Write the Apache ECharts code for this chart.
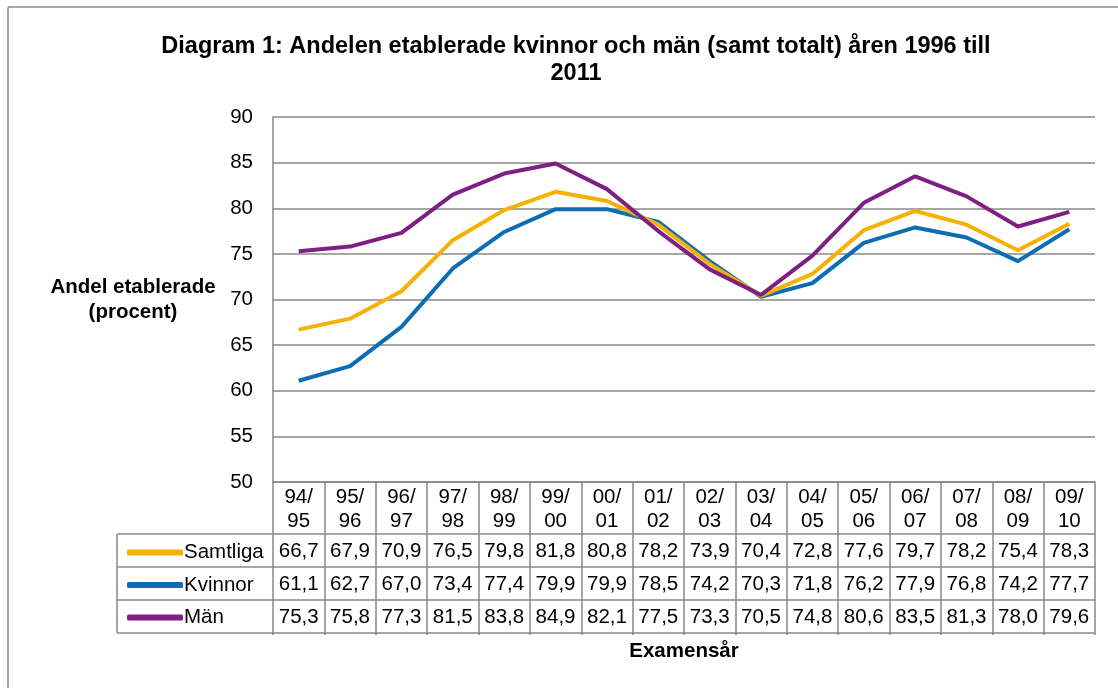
<!DOCTYPE html>
<html>
<head>
  <meta charset="utf-8">
  <script src="https://cdn.jsdelivr.net/npm/echarts@6/dist/echarts.min.js"></script>
  <style>
    html, body { margin: 0; padding: 0; background: #fff; }
  </style>
</head>
<body>
  <div id="id_chart" style="width: 1118px; height: 688px;"></div>

  <script type="text/javascript">
    // data
    var years = ['94/95', '95/96', '96/97', '97/98', '98/99', '99/00', '00/01', '01/02',
                 '02/03', '03/04', '04/05', '05/06', '06/07', '07/08', '08/09', '09/10'];
    var samtliga = [66.7, 67.9, 70.9, 76.5, 79.8, 81.8, 80.8, 78.2, 73.9, 70.4, 72.8, 77.6, 79.7, 78.2, 75.4, 78.3];
    var kvinnor = [61.1, 62.7, 67.0, 73.4, 77.4, 79.9, 79.9, 78.5, 74.2, 70.3, 71.8, 76.2, 77.9, 76.8, 74.2, 77.7];
    var man = [75.3, 75.8, 77.3, 81.5, 83.8, 84.9, 82.1, 77.5, 73.3, 70.5, 74.8, 80.6, 83.5, 81.3, 78.0, 79.6];
    var seriesNames = ['Samtliga', 'Kvinnor', 'Män'];
    var seriesData = [samtliga, kvinnor, man];
    var colors = ['#F8B102', '#0D6DB3', '#7E1F84'];

    var gridColor = '#888888';
    var font = 'Liberation Sans, Arial, sans-serif';
    var fs = 20.5;

    var chart = echarts.init(document.getElementById('id_chart'));

    function fmt(v) {
      return v.toFixed(1).replace('.', ',');
    }

    // the table rows are drawn as extra x axes, one per series
    var xAxes = [{
      type: 'category',
      data: years,
      boundaryGap: true,
      axisLine: { show: true, lineStyle: { color: gridColor, width: 1.5 } },
      axisTick: { show: true, interval: 0, length: 153, lineStyle: { color: gridColor, width: 1.5 } },
      axisLabel: {
        interval: 0, margin: 3, fontSize: fs, lineHeight: 24, color: '#000', fontFamily: font,
        formatter: function (v) { return v.replace('/', '/\n'); }
      }
    }];
    for (var r = 0; r < 3; r++) {
      (function (r) {
        xAxes.push({
          type: 'category',
          data: years,
          position: 'bottom',
          offset: 52 + r * 33,
          axisLine: { show: false },
          axisTick: { show: false },
          axisLabel: {
            interval: 0, margin: 7, fontSize: fs, color: '#000', fontFamily: font,
            formatter: function (v, i) { return fmt(seriesData[r][i]); }
          }
        });
      })(r);
    }

    var series = [];
    for (var i = 0; i < 3; i++) {
      series.push({
        name: seriesNames[i],
        type: 'line',
        data: seriesData[i],
        symbol: 'none',
        lineStyle: { color: colors[i], width: 4 },
        itemStyle: { color: colors[i] },
        z: 3 - i
      });
    }
    // Män drawn on top like the reference
    series[2].z = 5;

    var option = {
      animation: false,
      backgroundColor: '#fff',
      title: {
        text: 'Diagram 1: Andelen etablerade kvinnor och män (samt totalt) åren 1996 till\n2011',
        left: 571,
        textAlign: 'center',
        top: 28,
        textStyle: { fontSize: 23.5, fontWeight: 'bold', color: '#000', fontFamily: font, lineHeight: 27 }
      },
      legend: {
        orient: 'vertical',
        left: 122,
        top: 537,
        itemGap: 11.5,
        itemWidth: 56,
        itemHeight: 6,
        icon: 'roundRect',
        data: seriesNames,
        textStyle: { fontSize: fs, color: '#000', fontFamily: font, padding: [0, 0, 0, -4] },
        selectedMode: false
      },
      grid: { left: 273, right: 23, top: 117, bottom: 206, containLabel: false },
      xAxis: xAxes,
      yAxis: {
        type: 'value',
        min: 50,
        max: 90,
        interval: 5,
        name: 'Andel etablerade\n(procent)',
        nameLocation: 'middle',
        nameGap: 140,
        nameRotate: 0,
        nameTextStyle: { fontSize: fs, fontWeight: 'bold', color: '#000', fontFamily: font, lineHeight: 25, align: 'center' },
        axisLine: { show: true, lineStyle: { color: gridColor, width: 1.5 } },
        axisTick: { show: false },
        axisLabel: { fontSize: fs, color: '#000', fontFamily: font, margin: 20 },
        splitLine: { show: true, lineStyle: { color: gridColor, width: 1.5 } }
      },
      series: series
    };
    chart.setOption(option);

    // table borders: positions taken from the axis scale
    var x0 = chart.convertToPixel({ xAxisIndex: 0 }, 0);
    var xN = chart.convertToPixel({ xAxisIndex: 0 }, years.length - 1);
    var half = (xN - x0) / (years.length - 1) / 2;
    var left = x0 - half;
    var right = xN + half;
    var yBase = chart.convertToPixel({ yAxisIndex: 0 }, 50);
    var rowTop = yBase + 52;
    var rowH = 33;
    var tableLeft = 117;
    var lineStyle = { stroke: gridColor, lineWidth: 1.5 };
    var graphics = [];
    for (var k = 0; k <= 3; k++) {
      var yy = rowTop + k * rowH;
      graphics.push({ type: 'line', shape: { x1: tableLeft, y1: yy, x2: right, y2: yy }, style: lineStyle, silent: true });
    }
    graphics.push({ type: 'line', shape: { x1: tableLeft, y1: rowTop, x2: tableLeft, y2: rowTop + 3 * rowH }, style: lineStyle, silent: true });
    // outer chart border (left and top)
    graphics.push({ type: 'line', shape: { x1: 8, y1: 7, x2: 1118, y2: 7 }, style: { stroke: '#8a8a8a', lineWidth: 1.5 }, silent: true });
    graphics.push({ type: 'line', shape: { x1: 8, y1: 7, x2: 8, y2: 688 }, style: { stroke: '#8a8a8a', lineWidth: 1.5 }, silent: true });
    // x axis title
    graphics.push({
      type: 'text',
      style: {
        text: 'Examensår', x: (left + right) / 2, y: 651, align: 'center', verticalAlign: 'middle',
        font: 'bold ' + fs + 'px ' + font, fill: '#000'
      },
      silent: true
    });
    chart.setOption({ graphic: graphics });
  </script>
</body>
</html>
